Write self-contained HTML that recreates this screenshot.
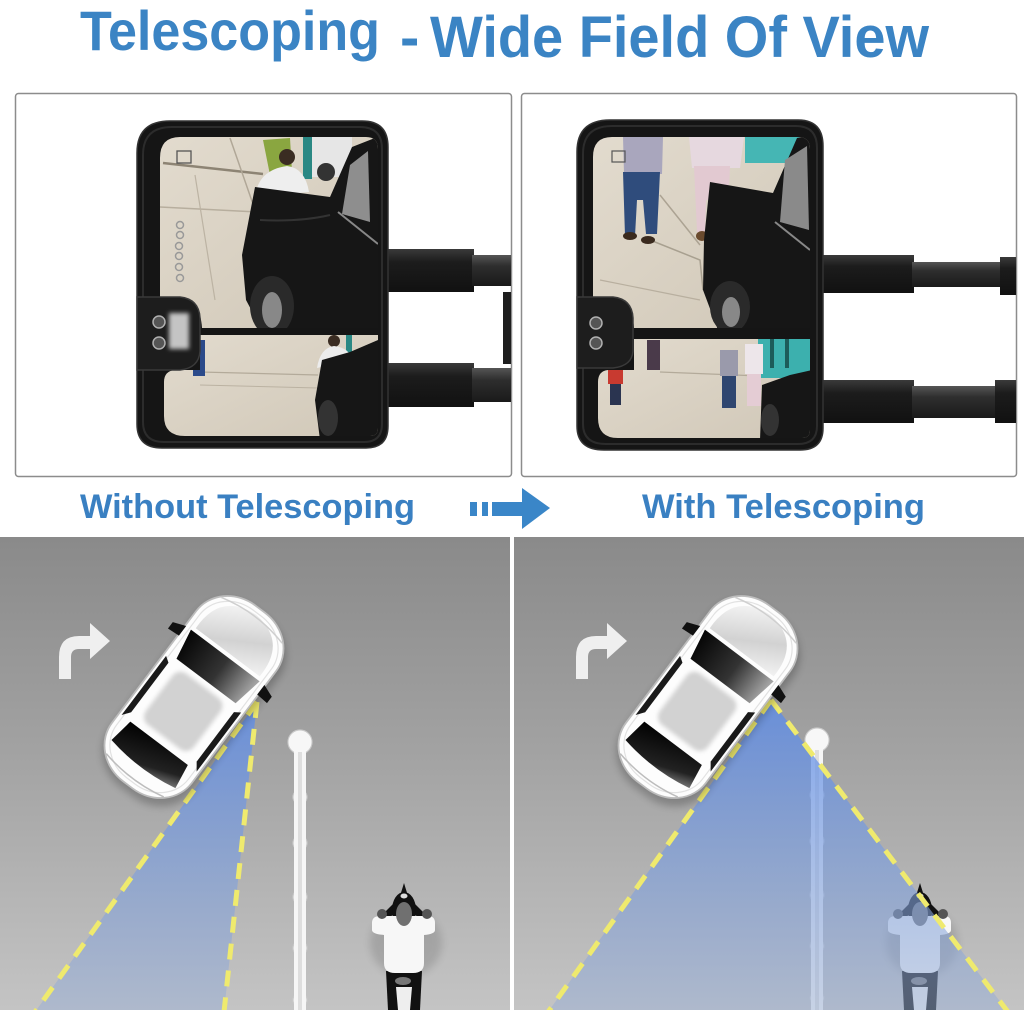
<!DOCTYPE html>
<html><head><meta charset="utf-8"><style>
html,body{margin:0;padding:0;background:#fff;}
svg{display:block;font-family:"Liberation Sans",Arial,sans-serif;}
</style></head><body>
<svg width="1024" height="1010" viewBox="0 0 1024 1010" xmlns="http://www.w3.org/2000/svg" xmlns:xlink="http://www.w3.org/1999/xlink">
<defs>
  <filter id="b2" x="-30%" y="-30%" width="160%" height="160%"><feGaussianBlur stdDeviation="2"/></filter>
  <filter id="b4" x="-30%" y="-30%" width="160%" height="160%"><feGaussianBlur stdDeviation="4"/></filter>
  <linearGradient id="road" x1="0" y1="537" x2="0" y2="1010" gradientUnits="userSpaceOnUse">
    <stop offset="0" stop-color="#8a8a8a"/><stop offset="0.45" stop-color="#a2a2a2"/><stop offset="1" stop-color="#c4c4c4"/>
  </linearGradient>
  <linearGradient id="fov" x1="0" y1="700" x2="0" y2="1010" gradientUnits="userSpaceOnUse">
    <stop offset="0" stop-color="#5a8bea" stop-opacity="0.78"/><stop offset="1" stop-color="#98aed4" stop-opacity="0.5"/>
  </linearGradient>
  <linearGradient id="hood" x1="0" y1="0" x2="1" y2="1">
    <stop offset="0" stop-color="#ffffff"/><stop offset="0.6" stop-color="#d2d2d2"/><stop offset="1" stop-color="#f2f2f2"/>
  </linearGradient>
  <linearGradient id="ws" x1="0" y1="0" x2="1" y2="0">
    <stop offset="0" stop-color="#050505"/><stop offset="0.55" stop-color="#333"/><stop offset="1" stop-color="#a8a8a8"/>
  </linearGradient>
  <linearGradient id="rw" x1="0" y1="0" x2="1" y2="1">
    <stop offset="0" stop-color="#000"/><stop offset="0.7" stop-color="#222"/><stop offset="1" stop-color="#888"/>
  </linearGradient>
  <linearGradient id="arm" x1="0" y1="0" x2="0" y2="1">
    <stop offset="0" stop-color="#3a3a3a"/><stop offset="0.3" stop-color="#1c1c1c"/><stop offset="1" stop-color="#111"/>
  </linearGradient>
  <linearGradient id="arm2" x1="0" y1="0" x2="0" y2="1">
    <stop offset="0" stop-color="#555"/><stop offset="0.35" stop-color="#2e2e2e"/><stop offset="1" stop-color="#1a1a1a"/>
  </linearGradient>
  <linearGradient id="walk" x1="0" y1="0" x2="1" y2="1">
    <stop offset="0" stop-color="#e3dccf"/><stop offset="1" stop-color="#cfc6b6"/>
  </linearGradient>

  <clipPath id="cL1"><path d="M180,137 H366 Q378,137 378,149 V328 H202 Q200,299 181,297 H160 V158 Q160,137 180,137 Z"/></clipPath>
  <clipPath id="cL2"><path d="M200,335 H378 V428 Q378,436 370,436 H185 Q164,436 164,416 V382 Q164,371 175,370 H200 Z"/></clipPath>
  <clipPath id="cR1"><path d="M612,137 H798 Q810,137 810,149 V328 H634 Q632,299 614,297 H593 V157 Q593,137 612,137 Z"/></clipPath>
  <clipPath id="cR2"><path d="M634,339 H810 V430 Q810,438 802,438 H618 Q598,438 598,418 V382 Q598,371 608,370 H634 Z"/></clipPath>
  <clipPath id="pL"><rect x="0" y="537" width="510" height="473"/></clipPath>
  <clipPath id="pR"><rect x="514" y="537" width="510" height="473"/></clipPath>

  <g id="car">
    <rect x="-48" y="-106" width="104" height="222" rx="44" ry="40" fill="#000" opacity="0.22" filter="url(#b4)"/>
    <rect x="-50" y="-110" width="100" height="220" rx="44" ry="40" fill="#fdfdfd" stroke="#bdbdbd" stroke-width="1.8"/>
    <rect x="-45" y="-105" width="90" height="210" rx="40" ry="36" fill="none" stroke="#e2e2e2" stroke-width="1.2"/>
    <path d="M-40,-56 Q-42,-100 0,-103 Q42,-100 40,-56 Z" fill="url(#hood)"/>
    <path d="M-43,-52 L43,-52 L37,-20 L-37,-20 Z" fill="url(#ws)"/>
    <rect x="-30" y="-14" width="60" height="64" rx="10" fill="#d2d2d2" filter="url(#b2)"/>
    <path d="M-47,-16 L-41,-12 L-41,50 L-47,58 Z" fill="#1a1a1a"/>
    <path d="M47,-16 L41,-12 L41,50 L47,58 Z" fill="#1a1a1a"/>
    <path d="M-36,58 L36,58 L40,84 Q0,92 -40,84 Z" fill="url(#rw)"/>
    <path d="M-49,-52 L-62,-47 L-62,-39 L-49,-40 Z" fill="#111"/>
    <path d="M49,-52 L62,-47 L62,-39 L49,-40 Z" fill="#111"/>
    <path d="M-36,98 Q0,106 36,98" stroke="#bdbdbd" stroke-width="1.5" fill="none"/>
    <path d="M-38,-96 Q0,-106 38,-96" stroke="#cfcfcf" stroke-width="1.5" fill="none"/>
  </g>

  <g id="rider">
    <ellipse cx="2" cy="30" rx="36" ry="34" fill="#000" opacity="0.12" filter="url(#b4)"/>
    <path d="M-18,58 L-16,97 H16 L18,58 Z" fill="#111"/>
    <path d="M-8,74 L-6,97 H6 L8,74 Z" fill="#eee"/>
    <ellipse cx="-1" cy="68" rx="8" ry="4" fill="#777"/>
    <path d="M-26,6 L-8,-12 L8,-12 L26,6 L22,10 L6,-2 L-6,-2 L-22,10 Z" fill="#111"/>
    <ellipse cx="0" cy="-3" rx="12" ry="18" fill="#111"/>
    <path d="M0,-30 L-4,-17 L4,-17 Z" fill="#111"/>
    <path d="M-32,10 Q-32,3 -24,3 H24 Q31,3 31,10 V17 Q31,21 20,22 V50 Q20,60 9,60 H-9 Q-20,60 -20,50 V22 Q-32,21 -32,17 Z" fill="#f7f7f7"/>
    <circle cx="-22" cy="1" r="5" fill="#555"/>
    <circle cx="23" cy="1" r="5" fill="#555"/>
    <ellipse cx="0" cy="1" rx="8" ry="12" fill="#707070"/>
    <ellipse cx="0" cy="-17" rx="3.5" ry="2.5" fill="#ddd"/>
  </g>

  <g id="lane">
    <g stroke="#c9c9c9" stroke-width="1.2">
      <circle cx="0" cy="55" r="7" fill="#f6f6f6"/>
      <circle cx="0" cy="101" r="7" fill="#f6f6f6"/>
      <circle cx="0" cy="155" r="7" fill="#f6f6f6"/>
      <circle cx="0" cy="206" r="7" fill="#f6f6f6"/>
      <circle cx="0" cy="258" r="7" fill="#f6f6f6"/>
      <circle cx="0" cy="0" r="12" fill="#f7f7f7"/>
    </g>
    <rect x="-6" y="0" width="12" height="272" fill="#f6f6f6"/>
    <circle cx="0" cy="0" r="11.4" fill="#f7f7f7"/>
    <rect x="-2" y="10" width="4" height="262" fill="#dedede"/>
  </g>

  <path id="turn" d="M0,38 V16 Q0,-5 20,-5 H31 V-18 L51,0 L31,18 V8 H20 Q12,8 12,16 V38 Z"/>
</defs>

<!-- Title -->
<text x="80" y="50" font-size="56" font-weight="bold" fill="#3b84c4" textLength="300" lengthAdjust="spacingAndGlyphs">Telescoping</text>
<text x="400" y="57" font-size="58" font-weight="bold" fill="#3b84c4">-</text>
<text x="430" y="57" font-size="58" font-weight="bold" fill="#3b84c4" textLength="499" lengthAdjust="spacingAndGlyphs">Wide Field Of View</text>

<!-- Top panels -->
<rect x="15.5" y="93.5" width="496" height="383" rx="3" fill="#fff" stroke="#8c8c8c" stroke-width="1.5"/>
<rect x="521.5" y="93.5" width="495" height="383" rx="3" fill="#fff" stroke="#8c8c8c" stroke-width="1.5"/>

<!-- LEFT MIRROR -->
<g>
  <rect x="386" y="249" width="88" height="43" fill="url(#arm)"/>
  <rect x="472" y="255" width="39" height="31" fill="url(#arm2)"/>
  <rect x="386" y="363" width="88" height="44" fill="url(#arm)"/>
  <rect x="472" y="368" width="39" height="34" fill="url(#arm2)"/>
  <rect x="503" y="292" width="8" height="72" fill="#1e1e1e"/>
  <path d="M170,121 H362 Q388,121 388,147 V426 Q388,448 366,448 H162 Q137,448 137,424 V153 Q137,121 170,121 Z" fill="#151515" stroke="#333" stroke-width="1.5"/>
  <path d="M172,127 H360 Q382,127 382,149 V424 Q382,442 364,442 H164 Q143,442 143,422 V155 Q143,127 172,127 Z" fill="none" stroke="#2c2c2c" stroke-width="2"/>
  <g clip-path="url(#cL1)">
    <rect x="150" y="130" width="240" height="205" fill="url(#walk)"/>
    <path d="M163,163 L263,174" stroke="#8d8474" stroke-width="2.5"/>
    <path d="M230,138 L262,230 L255,290" stroke="#b0a797" stroke-width="1.5" fill="none"/>
    <path d="M160,207 L257,212" stroke="#b7ae9e" stroke-width="1.5"/>
    <path d="M195,175 L215,300" stroke="#bcb3a3" stroke-width="1.2"/>
    <rect x="312" y="137" width="40" height="40" fill="#e6e6e6"/>
    <ellipse cx="326" cy="172" rx="9" ry="9" fill="#333"/>
    <path d="M263,140 L290,138 L292,172 L270,175 Z" fill="#8aa640"/>
    <rect x="303" y="137" width="9" height="42" fill="#2a8884"/>
    <circle cx="287" cy="157" r="8" fill="#3a2c22"/>
    <path d="M255,197 Q258,170 287,166 Q305,168 309,192 Z" fill="#eeeeee"/>
    <path d="M255,187 L330,197 L352,147 L380,136 V330 H262 L246,300 L242,255 Z" fill="#161616"/>
    <path d="M350,165 L368,151 L370,222 L342,214 Z" fill="#8e8e8e"/>
    <path d="M338,212 L378,244" stroke="#888" stroke-width="2"/>
    <path d="M260,220 Q300,222 330,215" stroke="#333" stroke-width="2" fill="none"/>
    <ellipse cx="272" cy="306" rx="22" ry="30" fill="#2a2a2a"/>
    <ellipse cx="272" cy="310" rx="10" ry="18" fill="#888"/>
    <g fill="none" stroke="#999" stroke-width="1.5">
      <circle cx="180" cy="225" r="3.5"/><circle cx="180" cy="235" r="3.5"/><circle cx="179" cy="246" r="3.5"/>
      <circle cx="179" cy="256" r="3.5"/><circle cx="179" cy="267" r="3.5"/><circle cx="180" cy="278" r="3.5"/>
    </g>
    <rect x="177" y="151" width="14" height="12" fill="none" stroke="#555" stroke-width="1.3"/>
  </g>
  <g clip-path="url(#cL2)">
    <rect x="150" y="330" width="240" height="115" fill="url(#walk)"/>
    <path d="M200,372 L318,375" stroke="#b3aa9a" stroke-width="1.2"/>
    <path d="M200,385 L318,388" stroke="#bbb2a2" stroke-width="1"/>
    <rect x="193" y="340" width="12" height="36" fill="#2b4a8a"/>
    <rect x="346" y="335" width="6" height="26" fill="#2a8884"/>
    <circle cx="334" cy="341" r="6" fill="#3a2c22"/>
    <path d="M317,368 Q320,348 334,346 Q350,348 352,360 Z" fill="#ececec"/>
    <path d="M322,360 L350,352 L378,340 V440 H320 L315,400 Z" fill="#161616"/>
    <ellipse cx="328" cy="418" rx="10" ry="18" fill="#333"/>
  </g>
  <path d="M137,297 H180 Q199,299 200,318 V351 Q199,368 180,370 H137 Z" fill="#1d1d1d" stroke="#3a3a3a" stroke-width="1.5"/>
  <circle cx="159" cy="322" r="6" fill="#555" stroke="#b0b0b0" stroke-width="1.5"/>
  <circle cx="159" cy="343" r="6" fill="#555" stroke="#b0b0b0" stroke-width="1.5"/>
  <rect x="169" y="313" width="20" height="36" fill="#c4c4c4" filter="url(#b2)"/>
</g>

<!-- RIGHT MIRROR -->
<g>
  <rect x="822" y="255" width="92" height="38" fill="url(#arm)"/>
  <rect x="912" y="262" width="90" height="25" fill="url(#arm2)"/>
  <rect x="1000" y="257" width="16" height="38" fill="url(#arm)"/>
  <rect x="822" y="380" width="92" height="43" fill="url(#arm)"/>
  <rect x="912" y="386" width="84" height="32" fill="url(#arm2)"/>
  <rect x="995" y="380" width="21" height="43" fill="url(#arm)"/>
  <path d="M610,120 H798 Q823,120 823,146 V428 Q823,450 800,450 H604 Q577,450 577,426 V152 Q577,120 610,120 Z" fill="#151515" stroke="#333" stroke-width="1.5"/>
  <path d="M612,126 H796 Q817,126 817,148 V426 Q817,444 798,444 H606 Q583,444 583,424 V154 Q583,126 612,126 Z" fill="none" stroke="#2c2c2c" stroke-width="2"/>
  <g clip-path="url(#cR1)">
    <rect x="585" y="130" width="235" height="205" fill="url(#walk)"/>
    <path d="M650,240 L700,260 L703,290" stroke="#a8a090" stroke-width="1.5" fill="none"/>
    <path d="M660,195 L700,245" stroke="#aca393" stroke-width="1.5"/>
    <path d="M600,280 L700,300" stroke="#b8af9f" stroke-width="1.2"/>
    <rect x="745" y="135" width="55" height="28" fill="#45b6b4"/>
    <path d="M623,137 H663 L662,174 H624 Z" fill="#a9a6bd"/>
    <path d="M623,172 H660 L657,234 H646 L643,200 L637,200 L635,236 H625 Z" fill="#2f4c7c"/>
    <ellipse cx="630" cy="236" rx="7" ry="4" fill="#3a2a1e"/>
    <ellipse cx="648" cy="240" rx="7" ry="4" fill="#3a2a1e"/>
    <path d="M689,137 H744 L740,168 H692 Z" fill="#e6d8df"/>
    <path d="M694,166 H730 L727,232 H716 L712,200 L706,200 L705,232 H697 Z" fill="#e2c9d1"/>
    <ellipse cx="702" cy="236" rx="6" ry="5" fill="#6a4a2e"/>
    <path d="M710,182 L773,193 L797,138 L812,135 V330 H718 L703,290 L704,240 Z" fill="#161616"/>
    <path d="M785,160 L807,146 L809,230 L780,222 Z" fill="#8a8a8a"/>
    <path d="M775,222 L810,250" stroke="#888" stroke-width="2"/>
    <ellipse cx="730" cy="307" rx="20" ry="26" fill="#2a2a2a"/>
    <ellipse cx="731" cy="312" rx="9" ry="15" fill="#888"/>
    <rect x="612" y="151" width="13" height="11" fill="none" stroke="#555" stroke-width="1.2"/>
  </g>
  <g clip-path="url(#cR2)">
    <rect x="590" y="330" width="230" height="115" fill="url(#walk)"/>
    <path d="M660,372 L760,376" stroke="#b3aa9a" stroke-width="1.2"/>
    <rect x="758" y="338" width="52" height="40" fill="#3cb0ae"/>
    <rect x="770" y="338" width="4" height="30" fill="#1c5c5a"/>
    <rect x="785" y="338" width="4" height="30" fill="#1c5c5a"/>
    <rect x="647" y="340" width="13" height="30" fill="#4a3a4a"/>
    <rect x="608" y="370" width="15" height="14" fill="#c83a30"/>
    <rect x="610" y="384" width="11" height="21" fill="#2a3450"/>
    <rect x="720" y="350" width="18" height="26" fill="#9a9aab"/>
    <rect x="722" y="376" width="14" height="32" fill="#2f4670"/>
    <rect x="745" y="344" width="18" height="30" fill="#ede6ea"/>
    <rect x="747" y="374" width="14" height="32" fill="#e4ccd4"/>
    <path d="M762,385 L790,375 L812,370 V440 H760 Z" fill="#161616"/>
    <ellipse cx="770" cy="420" rx="9" ry="16" fill="#333"/>
  </g>
  <path d="M577,297 H613 Q632,299 633,318 V351 Q632,366 613,368 H577 Z" fill="#1d1d1d" stroke="#3a3a3a" stroke-width="1.5"/>
  <circle cx="596" cy="323" r="6" fill="#555" stroke="#b0b0b0" stroke-width="1.5"/>
  <circle cx="596" cy="343" r="6" fill="#555" stroke="#b0b0b0" stroke-width="1.5"/>
</g>

<!-- Labels and arrow -->
<text x="80" y="518" font-size="34" font-weight="bold" fill="#3a80c2" textLength="335" lengthAdjust="spacingAndGlyphs">Without Telescoping</text>
<text x="642" y="518" font-size="34" font-weight="bold" fill="#3a80c2" textLength="283" lengthAdjust="spacingAndGlyphs">With Telescoping</text>
<g fill="#3a86c8">
  <rect x="470" y="502" width="7" height="14"/>
  <rect x="482" y="502" width="6" height="14"/>
  <rect x="492" y="502" width="32" height="14"/>
  <polygon points="522,488 550,508 522,529"/>
</g>

<!-- LEFT ROAD PANEL -->
<g clip-path="url(#pL)">
  <rect x="0" y="537" width="510" height="473" fill="url(#road)"/>
  <use xlink:href="#turn" href="#turn" transform="translate(59,641)" fill="#efefef"/>
  <use xlink:href="#lane" href="#lane" transform="translate(300,742)"/>
  <use xlink:href="#rider" href="#rider" transform="translate(404,913)"/>
  <polygon points="257,702 35,1012 224,1012" fill="url(#fov)"/>
  <g stroke="#efea6e" stroke-width="5" stroke-dasharray="16 11" fill="none">
    <line x1="257" y1="702" x2="35" y2="1012"/>
    <line x1="257" y1="702" x2="224" y2="1012"/>
  </g>
  <use xlink:href="#car" href="#car" transform="translate(194,697) rotate(37)"/>
</g>

<!-- RIGHT ROAD PANEL -->
<g clip-path="url(#pR)">
  <rect x="514" y="537" width="510" height="473" fill="url(#road)"/>
  <use xlink:href="#turn" href="#turn" transform="translate(576,641)" fill="#efefef"/>
  <use xlink:href="#lane" href="#lane" transform="translate(817,740)"/>
  <use xlink:href="#rider" href="#rider" transform="translate(920,913)"/>
  <polygon points="771,700 548,1012 1008,1012" fill="url(#fov)"/>
  <g stroke="#efea6e" stroke-width="5" stroke-dasharray="16 11" fill="none">
    <line x1="771" y1="700" x2="548" y2="1012"/>
    <line x1="771" y1="700" x2="1008" y2="1012"/>
  </g>
  <use xlink:href="#car" href="#car" transform="translate(708,697) rotate(37)"/>
</g>
</svg>
</body></html>
